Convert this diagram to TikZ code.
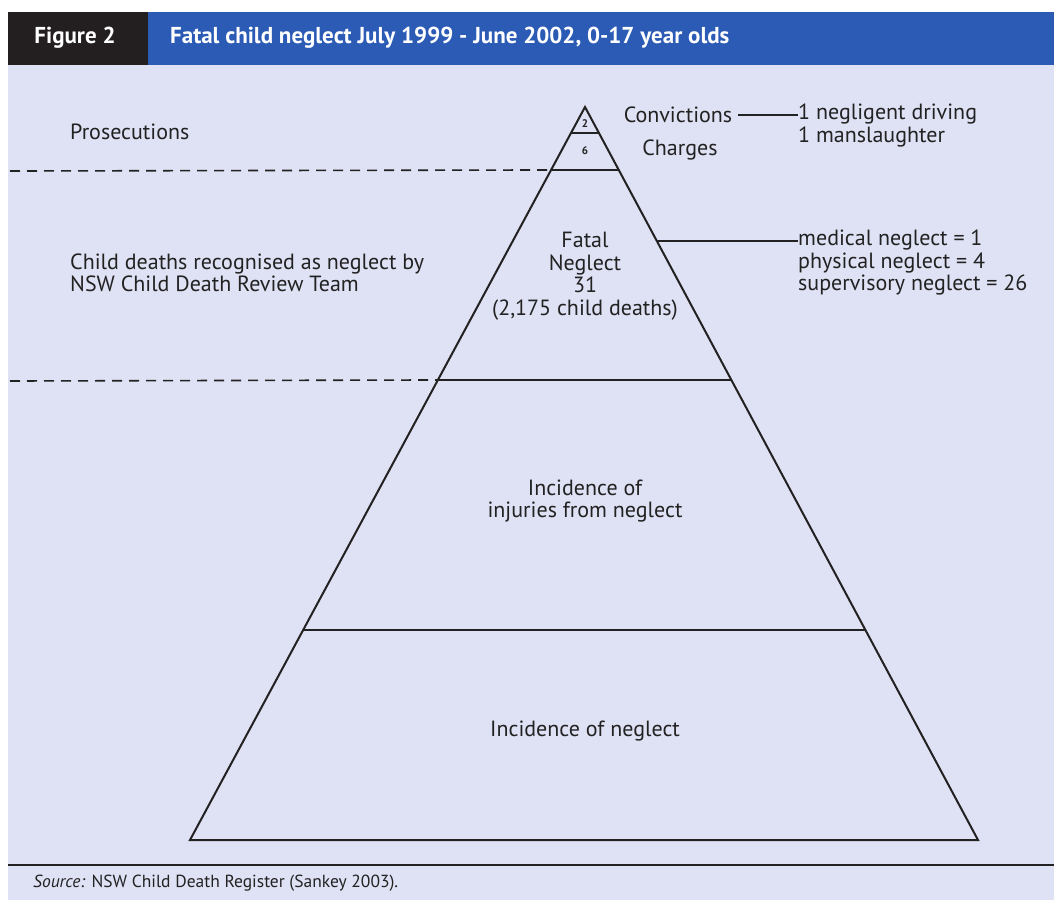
\documentclass[tikz,border=0pt]{standalone}
\usepackage{fontspec}
\setmainfont{PT Sans}
\usetikzlibrary{calc}
\definecolor{bgc}{HTML}{DFE1F4}
\definecolor{hdr}{HTML}{2B5BB5}
\definecolor{hdrdark}{HTML}{231F20}
\definecolor{ink}{HTML}{222222}
\begin{document}
\begin{tikzpicture}[x=1pt,y=-1pt,
  txt/.style={font=\fontsize{22}{22.5}\selectfont, text=ink, inner sep=0pt},
  small/.style={font=\fontsize{11}{12}\selectfont\bfseries, text=ink, inner sep=0pt},
  head/.style={font=\fontsize{23}{24}\selectfont\bfseries, text=white, inner sep=0pt},
  pyr/.style={draw=ink, line width=2pt},
  conn/.style={draw=ink, line width=1.6pt},
  dashline/.style={draw=ink, line width=1.6pt, dash pattern=on 10pt off 7pt}]
\useasboundingbox (0,0) rectangle (1054,900);
\fill[white] (0,0) rectangle (1054,900);
\fill[bgc] (8,65) rectangle (1054,900);
\fill[hdr] (148,12) rectangle (1054,65);
\fill[hdrdark] (8,12) rectangle (148,65);
\node[head] (fig) at (75,38) {Figure 2};
\node[head, anchor=west] (title) at (170,38) {Fatal child neglect July 1999 - June 2002, 0-17 year olds};
% pyramid
\coordinate (A) at (585,107);
\coordinate (BL) at (190,840);
\coordinate (BR) at (978,840);
\coordinate (l1) at ($(A)!0.0355!(BL)$);
\coordinate (r1) at ($(A)!0.0355!(BR)$);
\coordinate (l2) at ($(A)!0.0859!(BL)$);
\coordinate (r2) at ($(A)!0.0859!(BR)$);
\coordinate (l3) at ($(A)!0.3724!(BL)$);
\coordinate (r3) at ($(A)!0.3724!(BR)$);
\coordinate (l4) at ($(A)!0.7135!(BL)$);
\coordinate (r4) at ($(A)!0.7135!(BR)$);
\coordinate (fr) at ($(A)!0.1828!(BR)$);
\draw[pyr, line join=miter] (A) -- (BL) -- (BR) -- cycle;
\draw[pyr] (l1) -- (r1);
\draw[pyr] (l2) -- (r2);
\draw[pyr] (l3) -- (r3);
\draw[pyr] (l4) -- (r4);
% dashed lines
\coordinate (d1) at (10,171);
\coordinate (d2) at (10,381);
\draw[dashline] (d1) -- (l2);
\draw[dashline] (d2) -- (l3);
% texts inside
\node[small] (n2) at (585,124) {2};
\node[small] (n6) at (585,151) {6};
\node[txt, align=center] (fatal) at (585,276) {Fatal\\Neglect\\31\\(2,175 child deaths)};
\node[txt, align=center] (inj) at (585,501) {Incidence of\\injuries from neglect};
\node[txt] (inc) at (585,731) {Incidence of neglect};
% left labels
\node[txt, anchor=west] (pros) at (70,132) {Prosecutions};
\node[txt, anchor=west, align=left] (cdrt) at (70,273) {Child deaths recognised as neglect by\\NSW Child Death Review Team};
% right labels
\node[txt] (conv) at (678,115) {Convictions};
\node[txt] (chg) at (680,150) {Charges};
\node[txt, anchor=north west, align=left] (convd) at (798,104) {1 negligent driving\\1 manslaughter};
\node[txt, anchor=north west, align=left] (fatd) at (798,230) {medical neglect = 1\\physical neglect = 4\\supervisory neglect = 26};
\draw[conn] ([xshift=6pt]conv.east) -- (conv.east -| convd.west);
\draw[conn] (fr) -- (fr -| fatd.west);
% source
\draw[ink, line width=2pt] (8,865) -- (1054,865);
\node[font=\fontsize{17.5}{19}\selectfont, text=ink, inner sep=0pt, anchor=west] (src) at (33,883) {\textit{Source:} NSW Child Death Register (Sankey 2003).};
\end{tikzpicture}
\end{document}
